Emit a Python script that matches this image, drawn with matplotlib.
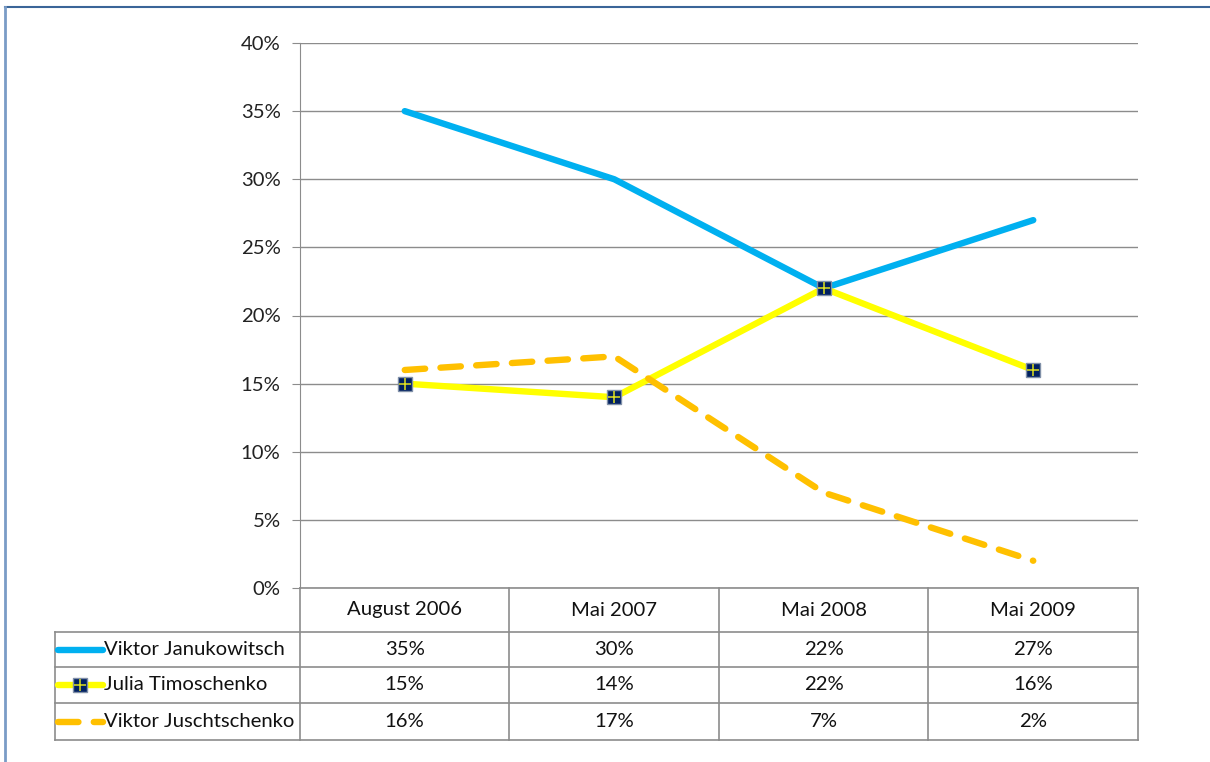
import matplotlib.pyplot as plt
from matplotlib.lines import Line2D

# Data
categories = ["August 2006", "Mai 2007", "Mai 2008", "Mai 2009"]
series_names = ["Viktor Janukowitsch", "Julia Timoschenko", "Viktor Juschtschenko"]
janukowitsch = [35, 30, 22, 27]
timoschenko = [15, 14, 22, 16]
juschtschenko = [16, 17, 7, 2]
y_ticks = [0, 5, 10, 15, 20, 25, 30, 35, 40]

plt.rcParams['font.family'] = ['Lato', 'DejaVu Sans']
W, H = 1210, 762
fig = plt.figure(figsize=(W / 100, H / 100), dpi=100)

# pixel layout
px_left, px_right, px_top, px_bottom = 300, 1138, 43, 588
ax = fig.add_axes([px_left / W, 1 - px_bottom / H, (px_right - px_left) / W, (px_bottom - px_top) / H])

x = range(len(categories))
grid_c = "#8c8c8c"
styles = [
    dict(color="#00B0F0", lw=4.6, solid_capstyle="round", zorder=3),
    dict(color="#FFFF00", lw=4.6, solid_capstyle="round", zorder=4),
    dict(color="#FFC000", lw=4.6, dashes=(3.2, 2.4), dash_capstyle="round", zorder=5),
]
values = [janukowitsch, timoschenko, juschtschenko]
mk_sq = dict(marker="s", ms=10, mfc="#002060", mec="#8090a8", mew=1)
mk_cross = dict(marker="+", ms=9, mec="#e0e020", mew=1.1)

for vals, st in zip(values, styles):
    ax.plot(x, vals, **st)

# Timoschenko markers
ax.plot(x, timoschenko, ls="none", zorder=6, **mk_sq)
ax.plot(x, timoschenko, ls="none", zorder=7, **mk_cross)

ax.set_xlim(-0.5, len(categories) - 0.5)
ax.set_ylim(0, 40)
ax.set_yticks(y_ticks)
fs = 14.6
ax.set_yticklabels([f"{v}%" for v in y_ticks], fontsize=fs, color="#222222")
ax.set_xticks([])
ax.yaxis.grid(True, color=grid_c, lw=1)
ax.set_axisbelow(True)
for s in ["top", "right", "bottom"]:
    ax.spines[s].set_visible(False)
ax.spines["left"].set_color(grid_c)
ax.tick_params(axis="y", length=6, color=grid_c, pad=8)

# Data table below the chart
tbl_left, tbl_bottom = 55, 740
row_edges = [588, 632, 667, 703, 740]
tax = fig.add_axes([tbl_left / W, 1 - tbl_bottom / H, (px_right - tbl_left) / W, (tbl_bottom - px_bottom) / H])
col_px = (px_right - px_left) / len(categories)
x_first = -0.5 - (px_left - tbl_left) / col_px
tax.set_xlim(x_first, len(categories) - 0.5)
tax.set_ylim(tbl_bottom, px_bottom)
tax.axis("off")

lk = dict(color=grid_c, lw=1.2, clip_on=False)
# horizontal lines
tax.plot([-0.5, len(categories) - 0.5], [row_edges[0]] * 2, **lk)
for yy in row_edges[1:]:
    tax.plot([x_first, len(categories) - 0.5], [yy, yy], **lk)
# vertical lines
for i in range(len(categories) + 1):
    tax.plot([i - 0.5, i - 0.5], [row_edges[0], row_edges[-1]], **lk)
tax.plot([x_first, x_first], [row_edges[1], row_edges[-1]], **lk)

for i, c in enumerate(categories):
    tax.text(i, (row_edges[0] + row_edges[1]) / 2, c, ha="center", va="center", fontsize=fs, color="#111111")

key_len = (103 - 58) / col_px
key_x0 = x_first + 3 / col_px
for r, (name, vals, st) in enumerate(zip(series_names, values, styles)):
    yc = (row_edges[r + 1] + row_edges[r + 2]) / 2
    tax.plot([key_x0, key_x0 + key_len], [yc, yc], clip_on=False, **st)
    if r == 1:
        tax.plot(key_x0 + key_len / 2, yc, clip_on=False, zorder=6, **mk_sq)
        tax.plot(key_x0 + key_len / 2, yc, clip_on=False, zorder=7, **mk_cross)
    tax.text(key_x0 + key_len + 0.003, yc, name, ha="left", va="center", fontsize=fs, color="#111111")
    for i, v in enumerate(vals):
        tax.text(i, yc, f"{v}%", ha="center", va="center", fontsize=fs, color="#111111")

# outer frame
fig.add_artist(Line2D([5 / W, 1], [1 - 7 / H, 1 - 7 / H], color="#3a6598", lw=1.5))
fig.add_artist(Line2D([5 / W, 5 / W], [1 - 7 / H, 0], color="#7a9cc6", lw=2))

fig.savefig("out.png", dpi=100)
